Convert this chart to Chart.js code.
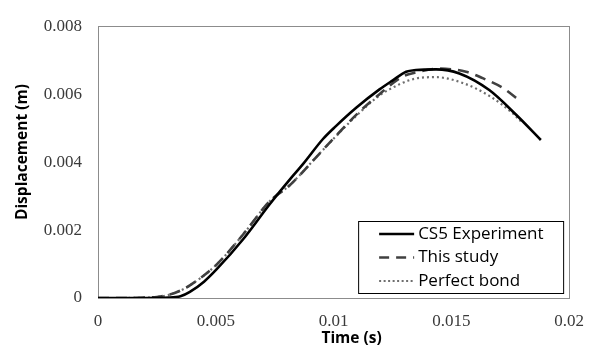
<!DOCTYPE html>
<html>
<head>
<meta charset="utf-8">
<script src="https://cdn.jsdelivr.net/npm/chart.js@4/dist/chart.umd.min.js"></script>
<style>
  html, body { margin: 0; padding: 0; background: #ffffff; }
  #c { display: block; }
</style>
</head>
<body>
<canvas id="c" width="597" height="354"></canvas>
<script>
// ---- data (time in s, displacement in m) ----
const seriesLabels = ["CS5 Experiment", "This study", "Perfect bond"];
const xAxisTitle = "Time (s)";
const yAxisTitle = "Displacement (m)";

const expTime = [0, 0.001, 0.002, 0.003, 0.0035, 0.0039, 0.0045, 0.00503, 0.00616, 0.00729, 0.00828, 0.0087, 0.00955, 0.0101, 0.01096, 0.01195, 0.0125, 0.01308, 0.0135, 0.01435, 0.01534, 0.01661, 0.01774, 0.0188];
const expDisp = [0, 0, 0, 0.00001, 0.00005, 0.00018, 0.00048, 0.00084, 0.00173, 0.00276, 0.0036, 0.00394, 0.00468, 0.00506, 0.0056, 0.00614, 0.0064, 0.00666, 0.00671, 0.00673, 0.00661, 0.00612, 0.0054, 0.00465];

const studyTime = [0, 0.001, 0.002, 0.0025, 0.00305, 0.0035, 0.0039, 0.00503, 0.00616, 0.00729, 0.00814, 0.00955, 0.01096, 0.01195, 0.01294, 0.0135, 0.01449, 0.01562, 0.01633, 0.01717, 0.01797];
const studyDisp = [0, 0, 0.00001, 0.00003, 0.0001, 0.00022, 0.00037, 0.00098, 0.00187, 0.00285, 0.00332, 0.00436, 0.00539, 0.006, 0.00652, 0.00664, 0.00675, 0.00666, 0.00647, 0.00619, 0.00577];

const bondTime = [0, 0.001, 0.002, 0.0025, 0.00305, 0.0035, 0.0039, 0.00503, 0.00616, 0.00729, 0.00814, 0.00955, 0.01096, 0.01195, 0.01237, 0.01336, 0.01435, 0.01548, 0.01661, 0.0176, 0.01795];
const bondDisp = [0, 0, 0.00001, 0.00003, 0.0001, 0.00022, 0.00037, 0.00098, 0.00187, 0.00285, 0.00332, 0.00436, 0.00536, 0.00596, 0.00614, 0.00644, 0.0065, 0.00633, 0.00595, 0.00544, 0.0052];

const xTickLabels = ["0", "0.005", "0.01", "0.015", "0.02"];
const yTickLabels = ["0", "0.002", "0.004", "0.006", "0.008"];

const toPts = (xs, ys) => xs.map((x, i) => ({ x: x, y: ys[i] }));

// ---- styles ----
const styles = [
  { color: "#000000", width: 2.6, dash: [] },
  { color: "#404040", width: 2.6, dash: [11, 7] },
  { color: "#6e6e6e", width: 2.2, dash: [2, 3] }
];
const legendDash = [[], [10, 7], [2, 2.5]];

const legendInside = {
  id: "legendInside",
  afterDraw(chart) {
    const ctx = chart.ctx;
    const a = chart.chartArea;
    const w = 205, h = 72;
    const x0 = a.right - 6 - w;
    const y0 = a.bottom - 5 - h;
    ctx.save();
    ctx.fillStyle = "#ffffff";
    ctx.fillRect(x0, y0, w, h);
    ctx.strokeStyle = "#000000";
    ctx.lineWidth = 1;
    ctx.strokeRect(x0 + 0.5, y0 + 0.5, w, h);
    ctx.font = "17px 'Open Sans'";
    ctx.textBaseline = "middle";
    ctx.fillStyle = "#000000";
    chart.data.datasets.forEach((ds, i) => {
      const yy = y0 + 13 + i * 23.5;
      const st = styles[i];
      ctx.beginPath();
      ctx.strokeStyle = st.color;
      ctx.lineWidth = st.width;
      ctx.setLineDash(legendDash[i]);
      ctx.moveTo(x0 + 21, yy);
      ctx.lineTo(x0 + 56, yy);
      ctx.stroke();
      ctx.setLineDash([]);
      ctx.fillText(ds.label, x0 + 60, yy);
    });
    ctx.restore();
  }
};

const frame = {
  id: "frame",
  beforeDatasetsDraw(chart) {
    const ctx = chart.ctx;
    const a = chart.chartArea;
    ctx.save();
    ctx.strokeStyle = "#8c8c8c";
    ctx.lineWidth = 1;
    ctx.strokeRect(Math.round(a.left) + 0.5, Math.round(a.top) + 0.5, Math.round(a.right - a.left), Math.round(a.bottom - a.top));
    ctx.restore();
  }
};

const axisTitles = {
  id: "axisTitles",
  afterDraw(chart) {
    const ctx = chart.ctx;
    const a = chart.chartArea;
    ctx.save();
    ctx.fillStyle = "#000000";
    ctx.font = "bold 15.5px 'Open Sans'";
    ctx.textAlign = "center";
    ctx.textBaseline = "middle";
    // x title
    ctx.fillText(xAxisTitle, (a.left + a.right) / 2 + 18, chart.height - 15);
    // y title
    ctx.translate(23, (a.top + a.bottom) / 2 - 10);
    ctx.rotate(-Math.PI / 2);
    ctx.fillText(yAxisTitle, 0, 0);
    ctx.restore();
  }
};

new Chart(document.getElementById("c"), {
  type: "scatter",
  data: {
    datasets: [
      { label: seriesLabels[0], data: toPts(expTime, expDisp) },
      { label: seriesLabels[1], data: toPts(studyTime, studyDisp) },
      { label: seriesLabels[2], data: toPts(bondTime, bondDisp) }
    ].map((d, i) => Object.assign(d, {
      showLine: true,
      pointRadius: 0,
      borderColor: styles[i].color,
      backgroundColor: styles[i].color,
      borderWidth: styles[i].width,
      borderDash: styles[i].dash,
      cubicInterpolationMode: "monotone",
      fill: false
    }))
  },
  options: {
    responsive: false,
    animation: false,
    events: [],
    layout: { padding: { left: 0, top: 14, right: 27, bottom: 0 } },
    plugins: { legend: { display: false }, tooltip: { enabled: false } },
    scales: {
      x: {
        type: "linear",
        min: 0, max: 0.02,
        grid: { display: false, drawTicks: false },
        border: { display: false },
        ticks: {
          stepSize: 0.005,
          padding: 13,
          color: "#3a3a3a",
          font: { family: "'Liberation Serif'", size: 17 },
          callback: (v, i) => xTickLabels[i]
        },
        title: { display: false },
        afterFit: (s) => { s.height = 56; }
      },
      y: {
        type: "linear",
        min: 0, max: 0.008,
        grid: { display: false, drawTicks: false },
        border: { display: false },
        ticks: {
          stepSize: 0.002,
          padding: 16,
          color: "#3a3a3a",
          font: { family: "'Liberation Serif'", size: 17 },
          callback: (v, i) => yTickLabels[i]
        },
        title: { display: false },
        afterFit: (s) => { s.width = 98; }
      }
    }
  },
  plugins: [frame, legendInside, axisTitles]
});
</script>
</body>
</html>
